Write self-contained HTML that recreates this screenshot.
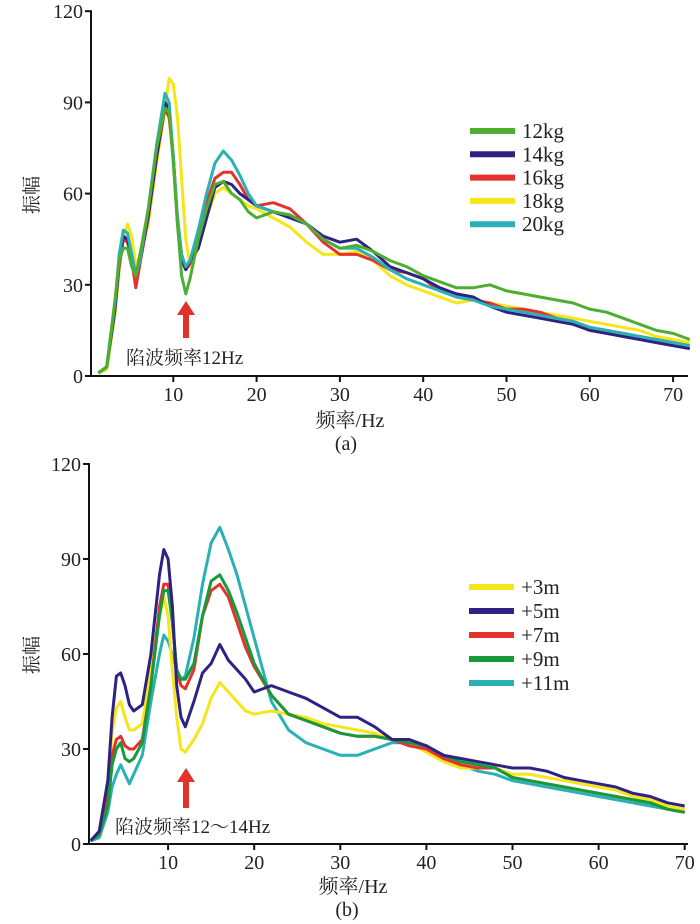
<!DOCTYPE html>
<html><head><meta charset="utf-8"><style>
html,body{margin:0;padding:0;background:#fff;}
svg{display:block;font-family:"Liberation Serif","Noto Serif CJK SC",serif;}
</style></head><body>
<svg id="chart" width="700" height="924" viewBox="0 0 700 924" xmlns="http://www.w3.org/2000/svg"></svg>
<script>
const freqA = [1,2,3,3.5,4,4.5,5,5.5,6,7,8,9,9.5,10,10.5,11,11.5,12,13,14,15,16,17,18,19,20,22,24,26,28,30,32,34,36,38,40,42,44,46,48,50,52,54,56,58,60,62,64,66,68,70,72];
const kg12 = [1,3,25,38,42,42,36,33,40,55,75,88,87,70,50,33,27,32,45,55,63,64,60,58,54,52,54,53,50,45,42,43,41,38,36,33,31,29,29,30,28,27,26,25,24,22,21,19,17,15,14,12];
const kg14 = [1,3,22,38,46,45,40,33,38,53,72,90,88,72,50,38,35,38,42,52,62,64,63,60,58,56,54,52,50,46,44,45,41,36,34,32,29,27,26,23,21,20,19,18,17,15,14,13,12,11,10,9];
const kg16 = [1,3,22,36,45,44,38,29,37,52,72,88,85,72,52,40,35,37,48,57,65,67,67,63,58,56,57,55,50,44,40,40,38,35,34,32,28,26,25,24,22,22,21,19,18,16,15,14,13,12,11,10];
const kg18 = [1,2,20,35,45,50,46,36,40,50,70,88,98,96,85,65,45,36,42,52,60,62,60,58,56,55,52,49,44,40,40,41,38,33,30,28,26,24,25,24,23,22,21,20,19,18,17,16,15,13,12,11];
const kg20 = [1,3,24,40,48,47,40,33,38,55,76,93,90,72,52,40,36,38,48,60,70,74,71,66,60,56,54,53,50,45,42,42,39,35,32,30,28,26,25,23,22,21,20,19,18,16,15,14,13,12,11,10];
const freqB = [1,2,3,3.5,4,4.5,5,5.5,6,7,8,9,9.5,10,10.5,11,11.5,12,13,14,15,16,17,18,19,20,22,24,26,28,30,32,34,36,38,40,42,44,46,48,50,52,54,56,58,60,62,64,66,68,70];
const m3 = [1,3,18,35,43,45,40,36,36,38,55,72,78,72,55,40,30,29,33,38,46,51,48,45,42,41,42,41,40,38,37,36,35,33,32,29,26,24,24,24,22,22,21,20,19,18,17,15,14,12,11];
const m5 = [1,4,20,40,53,54,50,44,42,44,60,85,93,90,75,50,40,37,45,54,57,63,58,55,52,48,50,48,46,43,40,40,37,33,33,31,28,27,26,25,24,24,23,21,20,19,18,16,15,13,12];
const m7 = [1,3,15,28,33,34,31,30,30,33,50,75,82,82,70,55,50,49,55,72,80,82,78,70,62,56,47,41,39,37,35,34,34,33,31,30,27,25,24,24,21,20,19,18,17,16,15,14,13,11,10];
const m9 = [1,3,12,25,30,32,27,26,27,32,50,72,80,80,70,55,52,52,57,72,83,85,80,73,65,57,47,41,39,37,35,34,34,33,32,31,28,26,25,24,21,20,19,18,17,16,15,14,13,11,10];
const m11 = [1,2,10,18,22,25,22,19,22,28,45,60,66,64,60,55,52,53,65,82,95,100,93,85,75,65,45,36,32,30,28,28,30,32,32,30,27,25,23,22,20,19,18,17,16,15,14,13,12,11,10];
const yTicks = [0,30,60,90,120];
const xTicks = [10,20,30,40,50,60,70];
const legendA = ["12kg","14kg","16kg","18kg","20kg"];
const legendB = ["+3m","+5m","+7m","+9m","+11m"];

const NS="http://www.w3.org/2000/svg";
const svg=document.getElementById('chart');
function mk(tag,attrs,parent,text){const e=document.createElementNS(NS,tag);for(const k in attrs)e.setAttribute(k,attrs[k]);if(text!==undefined)e.textContent=text;(parent||svg).appendChild(e);return e;}

function panel(cfg){
  const g=mk('g',{});
  
  
  const xs=f=>cfg.x0+cfg.xk*f, ys=v=>cfg.y0-cfg.yk*v;
  cfg.order.forEach(i=>{
    const vals=cfg.series[i];
    const d=vals.map((v,j)=>(j?'L':'M')+xs(cfg.freq[j]).toFixed(1)+' '+ys(v).toFixed(1)).join(' ');
    const p=mk('path',{d:d,fill:'none',stroke:cfg.colors[i],'stroke-width':3,'stroke-linejoin':'round'},g);
    
    
  });
  const ax=mk('path',{d:`M${cfg.ax} ${cfg.y0-cfg.yk*120-1} L${cfg.ax} ${cfg.y0} L${cfg.axEnd} ${cfg.y0}`,fill:'none',stroke:'#111','stroke-width':2},g);
  
  
  yTicks.forEach(t=>{
    mk('line',{x1:cfg.ax-6,x2:cfg.ax,y1:ys(t),y2:ys(t),stroke:'#111','stroke-width':2},g);
    const tx=mk('text',{x:cfg.ax-8,y:ys(t)+7,'text-anchor':'end','font-size':20,fill:'#222'},g,String(t));
    
    
  });
  xTicks.forEach(t=>{
    mk('line',{x1:xs(t),x2:xs(t),y1:cfg.y0,y2:cfg.y0+6,stroke:'#111','stroke-width':2},g);
    const tx=mk('text',{x:xs(t),y:cfg.y0+25,'text-anchor':'middle','font-size':20,fill:'#222'},g,String(t));
    
    
  });
  cfg.labels.forEach((lab,i)=>{
    const yy=cfg.legY+i*cfg.legStep;
    const ln=mk('line',{x1:cfg.legX,x2:cfg.legX+45,y1:yy,y2:yy,stroke:cfg.colors[i],'stroke-width':6},g);
    
    
    const tx=mk('text',{x:cfg.legX+52,y:yy+7,'font-size':21,fill:'#222'},g,lab);
    
    
  });
  const yl=mk('text',{x:0,y:0,'font-size':19,fill:'#222','text-anchor':'middle',transform:`translate(${cfg.ylX},${cfg.ylY}) rotate(-90)`},g,'振幅');
  
  
  const xl=mk('text',{x:cfg.xlX,y:cfg.xlY,'font-size':20,fill:'#222','text-anchor':'middle'},g,'频率/Hz');
  
  
  const cap=mk('text',{x:cfg.capX,y:cfg.xlY+23,'font-size':20,fill:'#222','text-anchor':'middle'},g,cfg.cap);
  
  
  const ar=mk('path',{d:`M${cfg.arX-3} ${cfg.arB} L${cfg.arX-3} ${cfg.arT+14} L${cfg.arX-9} ${cfg.arT+14} L${cfg.arX} ${cfg.arT} L${cfg.arX+9} ${cfg.arT+14} L${cfg.arX+3} ${cfg.arT+14} L${cfg.arX+3} ${cfg.arB} Z`,fill:'#e3312c'},g);
  
  
  const an=mk('text',{x:cfg.anX,y:cfg.anY,'font-size':19,fill:'#222'},g,cfg.an);
  
  
}

panel({name:'panel-a',freq:freqA,series:[kg12,kg14,kg16,kg18,kg20],labels:legendA,
  colors:['#4fae32','#2e2383','#e5322d','#f6e619','#2ab1b6'],order:[3,2,1,4,0],
  x0:90,xk:8.33,y0:376,yk:3.04,ax:91,axEnd:688,
  legX:470,legY:131,legStep:23.3,ylX:38,ylY:195,xlX:350,xlY:427,capX:346,cap:'(a)',
  arX:186,arT:301,arB:338,anX:126,anY:364,an:'陷波频率12Hz'});
panel({name:'panel-b',freq:freqB,series:[m3,m5,m7,m9,m11],labels:legendB,
  colors:['#f6e619','#2e2383','#e5322d','#179a3a','#2ab1b6'],order:[4,0,2,3,1],
  x0:82,xk:8.61,y0:844,yk:3.167,ax:89,axEnd:688,
  legX:469,legY:587,legStep:24,ylX:38,ylY:655,xlX:353,xlY:893,capX:347,cap:'(b)',
  arX:186,arT:768,arB:808,anX:115,anY:833,an:'陷波频率12～14Hz'});
</script>
</body></html>
